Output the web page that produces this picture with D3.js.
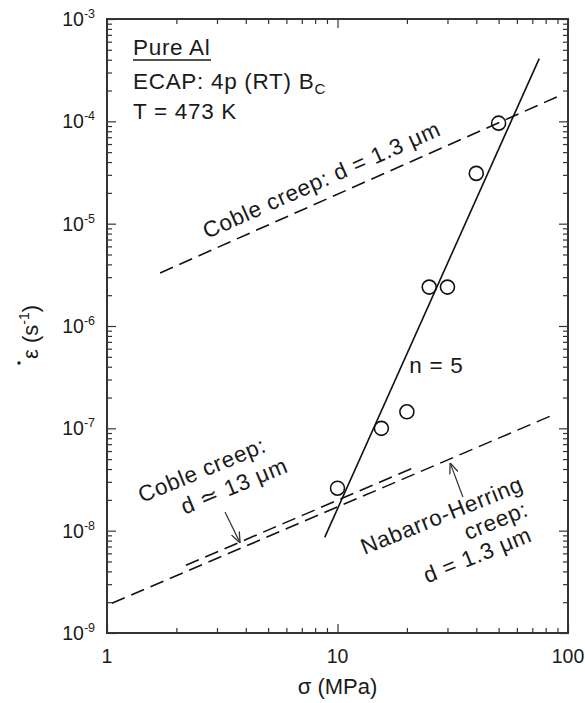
<!DOCTYPE html>
<html>
<head>
<meta charset="utf-8">
<script src="https://cdn.jsdelivr.net/npm/d3@7"></script>
<style>
  body { margin: 0; background: #fff; }
  text { font-family: "Liberation Sans", Arial, sans-serif; fill: #1a1a1a; }
  .note { letter-spacing: 0.7px; }
</style>
</head>
<body>
<div id="chart"></div>
<script>
// Size of the page and the plot box
const width = 585;
const height = 703;
const margin = { top: 19, right: 17, bottom: 70, left: 107 };

// Measured creep rates (open circles)
const creepSigma = [10, 15.5, 20, 25, 30, 40, 50];
const creepRate = [2.6e-8, 1.0e-7, 1.45e-7, 2.4e-6, 2.4e-6, 3.1e-5, 9.6e-5];

// Fitted line, n = 5
const fitSigma = [8.8, 75];
const fitRate = [8.6e-9, 4.1e-4];

// Predicted creep lines (dashed)
const cobleSigma = [1.7, 94];
const cobleRate = [3.3e-6, 1.82e-4];
const coble13Sigma = [2.2, 22];
const coble13Rate = [4.6e-9, 4.23e-8];
const nhSigma = [1.05, 86];
const nhRate = [1.95e-9, 1.35e-7];

// Tick values
const xMajor = [1, 10, 100];
const xLabels = ["1", "10", "100"];
const yMajor = [1e-9, 1e-8, 1e-7, 1e-6, 1e-5, 1e-4, 1e-3];
const yExp = ["-9", "-8", "-7", "-6", "-5", "-4", "-3"];

const fs = "22.5px";

const svg = d3.select("#chart")
  .append("svg")
  .attr("width", width)
  .attr("height", height);

const x = d3.scaleLog()
  .domain([1, 100])
  .range([margin.left, width - margin.right]);

const y = d3.scaleLog()
  .domain([1e-9, 1e-3])
  .range([height - margin.bottom, margin.top]);

// minor ticks 2..9 of every decade
const xMinor = [];
[1, 10].forEach(function(d) { for (let k = 2; k <= 9; k++) xMinor.push(d * k); });
const yMinor = [];
yMajor.slice(0, -1).forEach(function(d) { for (let k = 2; k <= 9; k++) yMinor.push(d * k); });

// draw inward ticks on all four sides
function drawAxis(axisFn, scale, values, size, transform) {
  svg.append("g")
    .attr("transform", transform)
    .call(axisFn(scale).tickValues(values).tickSize(-size).tickSizeOuter(0).tickFormat(""))
    .call(function(g) { g.select(".domain").remove(); })
    .call(function(g) { g.selectAll("line").attr("stroke", "#333").attr("stroke-width", 1.2); });
}
const x0 = margin.left, x1 = width - margin.right;
const y0 = height - margin.bottom, y1 = margin.top;

drawAxis(d3.axisBottom, x, xMajor, 9, "translate(0," + y0 + ")");
drawAxis(d3.axisBottom, x, xMinor, 5, "translate(0," + y0 + ")");
drawAxis(d3.axisTop, x, xMajor, 9, "translate(0," + y1 + ")");
drawAxis(d3.axisTop, x, xMinor, 5, "translate(0," + y1 + ")");
drawAxis(d3.axisLeft, y, yMajor, 9, "translate(" + x0 + ",0)");
drawAxis(d3.axisLeft, y, yMinor, 5, "translate(" + x0 + ",0)");
drawAxis(d3.axisRight, y, yMajor, 9, "translate(" + x1 + ",0)");
drawAxis(d3.axisRight, y, yMinor, 5, "translate(" + x1 + ",0)");

// frame
svg.append("rect")
  .attr("x", x0)
  .attr("y", y1)
  .attr("width", x1 - x0)
  .attr("height", y0 - y1)
  .attr("fill", "none")
  .attr("stroke", "#333")
  .attr("stroke-width", 2);

// x tick labels
svg.selectAll(".xlab")
  .data(xMajor)
  .enter()
  .append("text")
  .attr("class", "xlab")
  .attr("x", function(d) { return x(d); })
  .attr("y", y0 + 30)
  .attr("text-anchor", "middle")
  .style("font-size", "19.5px")
  .text(function(d, i) { return xLabels[i]; });

// y tick labels with superscript exponent
const ylab = svg.selectAll(".ylab")
  .data(yMajor)
  .enter()
  .append("text")
  .attr("class", "ylab")
  .attr("x", x0 - 12)
  .attr("y", function(d) { return y(d) + 7; })
  .attr("text-anchor", "end")
  .style("font-size", "19.5px");
ylab.append("tspan").text("10");
ylab.append("tspan")
  .attr("dy", -8)
  .style("font-size", "12.5px")
  .text(function(d, i) { return yExp[i]; });

// axis titles
svg.append("text")
  .attr("x", (x0 + x1) / 2)
  .attr("y", height - 9)
  .attr("text-anchor", "middle")
  .style("font-size", "22px")
  .text("\u03c3 (MPa)");

const yTitle = svg.append("g")
  .attr("transform", "translate(38," + ((y0 + y1) / 2 + 6) + ") rotate(-90)");
const yt = yTitle.append("text")
  .attr("text-anchor", "middle")
  .style("font-size", "22px");
yt.append("tspan").text("\u03b5 (s");
yt.append("tspan").attr("dy", -9).style("font-size", "14px").text("-1");
yt.append("tspan").attr("dy", 9).text(")");
yTitle.append("circle")
  .attr("cx", -31)
  .attr("cy", -19)
  .attr("r", 1.7)
  .attr("fill", "#1a1a1a");

// lines
const line = d3.line()
  .x(function(d) { return x(d[0]); })
  .y(function(d) { return y(d[1]); });

function drawLine(sig, rate, dashed) {
  svg.append("path")
    .datum(d3.zip(sig, rate))
    .attr("d", line)
    .attr("fill", "none")
    .attr("stroke", "#111")
    .attr("stroke-width", 1.6)
    .attr("stroke-dasharray", dashed ? "14,7" : null);
}
drawLine(cobleSigma, cobleRate, true);
drawLine(coble13Sigma, coble13Rate, true);
drawLine(nhSigma, nhRate, true);
drawLine(fitSigma, fitRate, false);

// data points
svg.selectAll(".pt")
  .data(d3.zip(creepSigma, creepRate))
  .enter()
  .append("circle")
  .attr("class", "pt")
  .attr("cx", function(d) { return x(d[0]); })
  .attr("cy", function(d) { return y(d[1]); })
  .attr("r", 7)
  .attr("fill", "none")
  .attr("stroke", "#111")
  .attr("stroke-width", 1.6);

// info block top left
const info = svg.append("g").attr("transform", "translate(" + (x0 + 26) + "," + y1 + ")");
info.append("text").attr("class", "note").attr("y", 36).style("font-size", fs).text("Pure Al");
info.append("line")
  .attr("x1", 0).attr("x2", 78)
  .attr("y1", 41).attr("y2", 41)
  .attr("stroke", "#1a1a1a").attr("stroke-width", 1.5);
const ecap = info.append("text").attr("class", "note").attr("y", 70).style("font-size", fs);
ecap.append("tspan").text("ECAP: 4p (RT) B");
ecap.append("tspan").attr("dy", 5).style("font-size", "15px").text("C");
info.append("text").attr("class", "note").attr("y", 100).style("font-size", fs).text("T = 473 K");

// n = 5
svg.append("text")
  .attr("class", "note")
  .attr("x", x(20.5))
  .attr("y", y(3.5e-7))
  .style("font-size", fs)
  .text("n = 5");

// rotated labels
function angleOf(sig, rate) {
  return Math.atan2(y(rate[1]) - y(rate[0]), x(sig[1]) - x(sig[0])) * 180 / Math.PI;
}
const cobleAngle = angleOf(cobleSigma, cobleRate);
svg.append("text")
  .attr("class", "note")
  .attr("transform", "translate(" + x(2.85) + "," + y(2.85 * 1.94e-6) + ") rotate(" + cobleAngle + ")")
  .attr("y", -12)
  .style("font-size", fs)
  .text("Coble creep: d = 1.3 \u03bcm");

const c13 = svg.append("g")
  .attr("transform", "translate(" + x(1.42) + "," + y(1.86e-8) + ") rotate(-22.5)");
c13.append("text").attr("class", "note").style("font-size", fs).text("Coble creep:");
c13.append("text").attr("class", "note").attr("x", 35).attr("y", 27).style("font-size", fs).text("d \u2243 13 \u03bcm");

const nh = svg.append("g")
  .attr("transform", "translate(" + x(65) + "," + y(2.49e-8) + ") rotate(-22)");
nh.append("text").attr("class", "note").attr("text-anchor", "end").style("font-size", fs).text("Nabarro-Herring");
nh.append("text").attr("class", "note").attr("text-anchor", "end").attr("x", -5).attr("y", 25).style("font-size", fs).text("creep:");
nh.append("text").attr("class", "note").attr("text-anchor", "end").attr("x", -11).attr("y", 50).style("font-size", fs).text("d = 1.3 \u03bcm");

// arrows
svg.append("defs").append("marker")
  .attr("id", "head")
  .attr("viewBox", "0 0 10 10")
  .attr("refX", 10).attr("refY", 5)
  .attr("markerWidth", 9).attr("markerHeight", 9)
  .attr("orient", "auto")
  .append("path")
  .attr("d", "M0,1 L10,5 L0,9")
  .attr("fill", "none")
  .attr("stroke", "#333")
  .attr("stroke-width", 1.2);

function arrow(s1, e1, s2, e2) {
  svg.append("line")
    .attr("x1", x(s1)).attr("y1", y(e1))
    .attr("x2", x(s2)).attr("y2", y(e2))
    .attr("stroke", "#333")
    .attr("stroke-width", 1.2)
    .attr("marker-end", "url(#head)");
}
arrow(3.25, 1.52e-8, 3.78, 7.6e-9);
arrow(35, 2.13e-8, 30.8, 4.6e-8);
</script>
</body>
</html>
